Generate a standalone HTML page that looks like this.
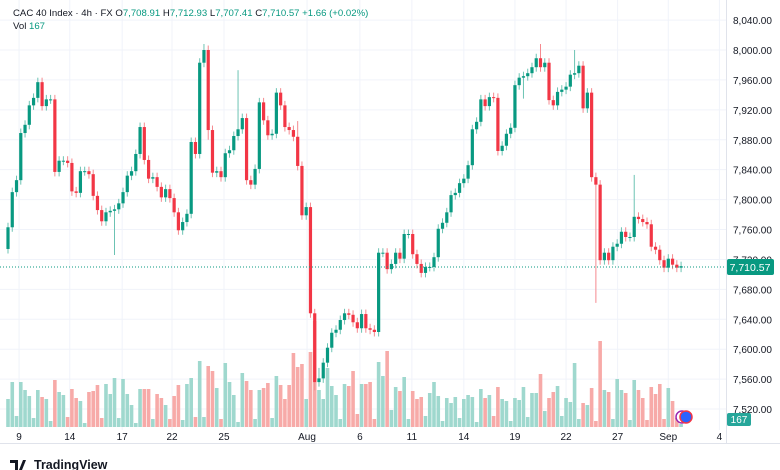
<!DOCTYPE html>
<html><head><meta charset="utf-8"><style>
html,body{margin:0;padding:0;background:#fff;}
body{width:780px;height:470px;overflow:hidden;font-family:"Liberation Sans",sans-serif;position:relative;}
svg{position:absolute;left:0;top:0;}
</style></head><body>
<svg id="chart" width="780" height="470" viewBox="0 0 780 470" xmlns="http://www.w3.org/2000/svg" font-family="Liberation Sans, sans-serif">
<g id="grid"></g>
<g id="vols"></g>
<g id="candles"></g>
<g id="axis"></g>
<g id="taxis"></g>
<line x1="0" x2="726" y1="267" y2="267" stroke="#089981" stroke-width="1" stroke-dasharray="1,2"/>
<rect x="727" y="259" width="47" height="16" rx="2" fill="#089981"/>
<text x="750" y="271" font-size="10.5" fill="#fff" text-anchor="middle">7,710.57</text>
<rect x="727" y="413" width="24" height="13" rx="2" fill="#26a69a"/>
<text x="739" y="423" font-size="10" fill="#fff" text-anchor="middle">167</text>
<circle cx="682" cy="417" r="6" fill="#fff" stroke="#9c27b0" stroke-width="1.5"/>
<circle cx="686" cy="417" r="6" fill="#2962ff" stroke="#f23645" stroke-width="1.5"/>
<text x="13" y="16" font-size="9.6" fill="#131722">CAC 40 Index · 4h · FX  <tspan fill="#131722">O</tspan><tspan fill="#089981">7,708.91</tspan>  <tspan fill="#131722">H</tspan><tspan fill="#089981">7,712.93</tspan>  <tspan fill="#131722">L</tspan><tspan fill="#089981">7,707.41</tspan>  <tspan fill="#131722">C</tspan><tspan fill="#089981">7,710.57 +1.66 (+0.02%)</tspan></text>
<text x="13" y="29" font-size="9.6" fill="#131722">Vol <tspan fill="#089981">167</tspan></text>
<line x1="0" x2="780" y1="443.5" y2="443.5" stroke="#e0e3eb"/>
<g>
<path d="M10 460h8v10h-3v-7h-5z M19 470l4-10h3l-4 10z" fill="#131722"/>
<text x="34" y="469" font-size="12.5" font-weight="bold" fill="#131722">TradingView</text>
</g>
</svg>
<script>
const closes=[7763,7810,7826,7889,7900,7926,7936,7957,7925,7934,7934,7837,7852,7852,7849,7811,7809,7838,7838,7834,7805,7786,7771,7783,7785,7787,7795,7810,7832,7838,7861,7897,7853,7828,7830,7817,7803,7814,7802,7783,7759,7770,7781,7877,7861,7983,8000,7893,7836,7838,7830,7862,7866,7885,7894,7909,7826,7820,7841,7930,
7906,7886,7888,7943,7926,7897,7893,7884,7845,7779,7790,7648,7556,7561,7582,7602,7622,7626,7639,7648,7646,7636,7628,7647,7628,7626,7623,7729,7729,7707,7714,7729,7721,7754,7754,7727,7714,7702,7710,7710,7723,7761,7769,7783,7806,7809,7822,7828,7846,7894,7904,7934,7925,7937,7936,7865,
7872,7888,7896,7953,7963,7965,7969,7977,7989,7977,7983,7933,7926,7944,7947,7951,7967,7969,7979,7922,7943,7830,7820,7719,7729,7719,7737,7741,7757,7750,7750,7777,7774,7770,7767,7737,7733,7719,7709,7721,7713,7709,7711];
const firstOpen=7734;
const volumes=[28,45,11,45,37,31,9,37,30,28,6,47,35,32,10,38,29,26,4,35,36,42,9,43,33,49,9,48,33,22,4,38,38,38,8,33,29,22,8,31,42,7,43,49,10,66,10,61,56,39,8,64,45,32,5,54,46,37,8,37,
39,44,9,51,42,28,42,74,60,63,28,75,106,37,28,59,41,32,8,43,41,56,13,43,43,45,8,65,51,76,17,40,36,50,8,36,28,30,11,34,45,31,6,29,24,30,9,28,32,30,5,38,29,32,11,40,
28,26,6,29,27,40,10,34,34,53,16,29,35,41,11,29,25,64,8,24,22,39,6,86,37,35,8,48,37,34,7,47,37,29,7,40,33,43,8,39,26,9,3];
const highOverride={46:8008,54:7973,125:8008,133:8000,147:7833,68:7905,73:7575};
const lowOverride={138:7662,72:7545,25:7726,47:7880,121:7935};
const priceTicks=[8040,8000,7960,7920,7880,7840,7800,7760,7720,7680,7640,7600,7560,7520];
const timeLabels=["9","14","17","22","25","Aug","6","11","14","19","22","27","Sep","4"];
const timeLabelIdx=[2.6,14.5,26.8,38.5,50.7,70.2,82.6,94.8,107,119,131,143.1,155,167];

const NS="http://www.w3.org/2000/svg";
const y=p=>50+(8000-p)*0.748;
const x=i=>8+i*4.26;
const vy=v=>427-v;
function mk(tag,attrs,parent){const e=document.createElementNS(NS,tag);for(const k in attrs)e.setAttribute(k,attrs[k]);parent.appendChild(e);return e;}
const grid=document.getElementById('grid'),axis=document.getElementById('axis'),taxis=document.getElementById('taxis');
priceTicks.forEach(p=>{
  const gl=mk('line',{x1:0,x2:726,y1:y(p),y2:y(p),stroke:'#f0f3fa'},grid);
  
  
  const t=mk('text',{x:733,y:y(p)+4,'font-size':10,fill:'#131722'},axis);
  
  
  t.textContent=p.toLocaleString('en-US')+'.00';
});
timeLabels.forEach((l,k)=>{
  const xx=x(timeLabelIdx[k]);
  const gl=mk('line',{x1:xx,x2:xx,y1:0,y2:430,stroke:'#f0f3fa'},grid);
  
  
  const t=mk('text',{x:xx,y:440,'font-size':10,fill:'#131722','text-anchor':'middle'},taxis);
  
  
  t.textContent=l;
});
const sep=mk('line',{x1:726.5,x2:726.5,y1:0,y2:443,stroke:'#e0e3eb'},grid);


const cg=document.getElementById('candles'),vg=document.getElementById('vols');
closes.forEach((c,i)=>{
  const o=i===0?firstOpen:closes[i-1];
  const up=c>=o;
  const col=up?'#089981':'#f23645';
  const hi=highOverride[i]!==undefined?highOverride[i]:Math.max(o,c)+6;
  const lo=lowOverride[i]!==undefined?lowOverride[i]:Math.min(o,c)-6;
  const cx=x(i);
  const v=volumes[i];
  const vb=mk('rect',{x:cx-1.8,y:vy(v),width:3.6,height:427-vy(v),fill:up?'#9fd8ce':'#f7aaa8'},vg);
  
  
  const w=mk('line',{x1:cx,x2:cx,y1:y(hi),y2:y(lo),stroke:up?'#6cc3b3':'#f58a8f','stroke-width':1},cg);
  
  
  const top=y(Math.max(o,c)),bot=y(Math.min(o,c));
  const b=mk('rect',{x:cx-1.6,y:top,width:3.2,height:Math.max(1,bot-top),fill:col},cg);
  
  
});
</script>
</body></html>
